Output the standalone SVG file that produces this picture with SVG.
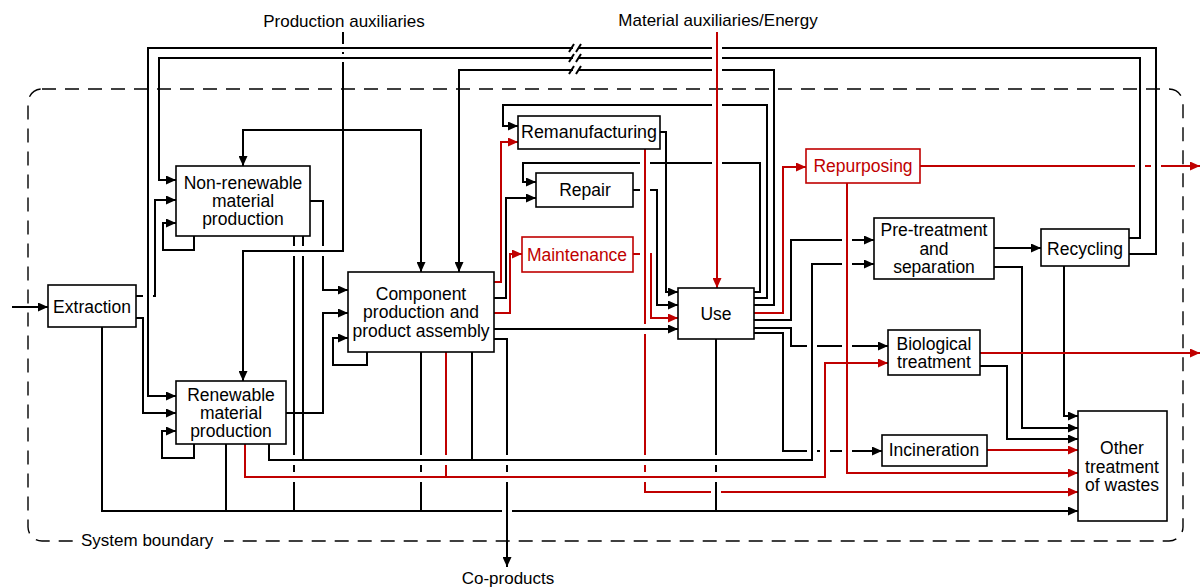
<svg xmlns="http://www.w3.org/2000/svg" width="1200" height="587" viewBox="0 0 1200 587">
<style>
.k{fill:none;stroke:#000;stroke-width:2}
.r{fill:none;stroke:#c00000;stroke-width:2}
.node rect{fill:#fff;stroke:#000;stroke-width:1.6}
.node.red rect{stroke:#c00000}
text{font-family:"Liberation Sans",Arial,sans-serif;font-size:17.5px;text-anchor:middle;fill:#000}
.node.red text{fill:#c00000}
.lbl{font-size:17px}
.gap{fill:#fff;stroke:none}
.bnd{fill:none;stroke:#000;stroke-width:1.4;stroke-dasharray:14 9}
</style>
<defs>
<marker id="ak" markerWidth="10" markerHeight="9" refX="10" refY="4.5" orient="auto" markerUnits="userSpaceOnUse"><path d="M0,0 L10,4.5 L0,9 z" fill="#000"/></marker>
<marker id="ar" markerWidth="10" markerHeight="9" refX="10" refY="4.5" orient="auto" markerUnits="userSpaceOnUse"><path d="M0,0 L10,4.5 L0,9 z" fill="#c00000"/></marker>
</defs>

<g id="boundary">
<rect class="bnd" x="28" y="89" width="1155" height="452" rx="14"/>
<rect class="gap" x="74" y="534" width="150" height="14"/>
<text x="81" y="546" style="text-anchor:start" class="lbl">System boundary</text>
</g>

<g id="labels">
<text class="lbl" x="344" y="27">Production auxiliaries</text>
<text class="lbl" x="718" y="26">Material auxiliaries/Energy</text>
<text class="lbl" x="508" y="584">Co-products</text>
</g>

<g id="connectors">
<path class="k" d="M12,307 H48" marker-end="url(#ak)"/>
<path class="k" d="M136,296 H155 V200 H176" marker-end="url(#ak)"/>
<path class="k" d="M136,318 H143 V413 H176" marker-end="url(#ak)"/>
<path class="k" d="M1129,254 H1156 V48 H148 V396 H176" marker-end="url(#ak)"/>
<path class="k" d="M1129,238 H1140 V58 H159 V180 H176" marker-end="url(#ak)"/>
<path class="k" d="M194,236 V250 H163 V223 H176" marker-end="url(#ak)"/>
<path class="k" d="M194,444 V458 H162 V431 H176" marker-end="url(#ak)"/>
<path class="k" d="M343,32 V251 H243 V381" marker-end="url(#ak)"/>
<path class="k" d="M343,130 H243 V166" marker-end="url(#ak)"/>
<path class="k" d="M343,130 H421 V272" marker-end="url(#ak)"/>
<path class="k" d="M310,201 H323 V290 H348" marker-end="url(#ak)"/>
<path class="k" d="M286,413 H323 V313 H348" marker-end="url(#ak)"/>
<path class="k" d="M367,352 V365 H333 V338 H348" marker-end="url(#ak)"/>
<path class="k" d="M294,236 V511"/>
<path class="k" d="M303,236 V460"/>
<path class="k" d="M226,444 V511"/>
<path class="k" d="M102,327 V511 H1078" marker-end="url(#ak)"/>
<path class="k" d="M269,444 V460 H812 V264 H874" marker-end="url(#ak)"/>
<path class="k" d="M421,352 V511"/>
<path class="k" d="M472,352 V460"/>
<path class="k" d="M494,339 H507 V567" marker-end="url(#ak)"/>
<path class="k" d="M494,298 H506 V198 H536" marker-end="url(#ak)"/>
<path class="k" d="M494,329 H678" marker-end="url(#ak)"/>
<path class="k" d="M754,292 H760 V163 H523 V182 H536" marker-end="url(#ak)"/>
<path class="k" d="M754,298 H767 V105 H503 V126 H518" marker-end="url(#ak)"/>
<path class="k" d="M754,305 H774 V70 H459 V272" marker-end="url(#ak)"/>
<path class="k" d="M754,320 H791 V240 H874" marker-end="url(#ak)"/>
<path class="k" d="M754,328 H791 V346 H888" marker-end="url(#ak)"/>
<path class="k" d="M754,333 H783 V451 H882" marker-end="url(#ak)"/>
<path class="k" d="M716,339 V511"/>
<path class="k" d="M660,132 H666 V292 H678" marker-end="url(#ak)"/>
<path class="k" d="M633,190 H657 V305 H678" marker-end="url(#ak)"/>
<path class="k" d="M994,248 H1041" marker-end="url(#ak)"/>
<path class="k" d="M994,267 H1022 V428 H1078" marker-end="url(#ak)"/>
<path class="k" d="M980,366 H1007 V439 H1078" marker-end="url(#ak)"/>
<path class="k" d="M1064,266 V416 H1078" marker-end="url(#ak)"/>

<path class="r" d="M494,282 H501 V142 H518" marker-end="url(#ar)"/>
<path class="r" d="M494,313 H510 V254 H522" marker-end="url(#ar)"/>
<path class="r" d="M633,254 H651 V318 H678" marker-end="url(#ar)"/>
<path class="r" d="M645,149 V492 H1078" marker-end="url(#ar)"/>
<path class="r" d="M754,313 H783 V167 H806" marker-end="url(#ar)"/>
<path class="r" d="M920,166 H1200" marker-end="url(#ar)"/>
<path class="r" d="M847,183 V473 H1078" marker-end="url(#ar)"/>
<path class="r" d="M980,353 H1200" marker-end="url(#ar)"/>
<path class="r" d="M987,450 H1078" marker-end="url(#ar)"/>
<path class="r" d="M245,444 V477 H825 V363 H888" marker-end="url(#ar)"/>
<path class="r" d="M446,352 V477"/>

<g id="jumps">
<rect class="gap" x="712" y="45" width="10" height="6"/><rect class="gap" x="712" y="55" width="10" height="6"/><rect class="gap" x="712" y="67" width="10" height="6"/><rect class="gap" x="712" y="102" width="10" height="6"/><rect class="gap" x="712" y="160" width="10" height="6"/>
<rect class="gap" x="143" y="293" width="10" height="6"/><path class="k" d="M148,289 V303"/>
<rect class="gap" x="640" y="251" width="10" height="6"/>
<rect class="gap" x="640" y="187" width="10" height="6"/>
<rect class="gap" x="640" y="160" width="10" height="6"/>
<path class="r" d="M645,155 V262"/>
<rect class="gap" x="1135" y="163" width="10" height="6"/><rect class="gap" x="1151" y="163" width="10" height="6"/>
<path class="k" d="M1140,158 V174 M1156,158 V174"/>
<rect class="gap" x="842" y="237" width="10" height="6"/><rect class="gap" x="842" y="261" width="10" height="6"/><rect class="gap" x="842" y="343" width="10" height="6"/><rect class="gap" x="842" y="448" width="10" height="6"/>
<path class="r" d="M847,232 V272 M847,338 V354 M847,443 V459"/>
<rect class="gap" x="807" y="343" width="10" height="6"/><rect class="gap" x="807" y="448" width="10" height="6"/>
<path class="k" d="M812,338 V354 M812,443 V459"/>
<rect class="gap" x="820" y="448" width="10" height="6"/><path class="r" d="M825,443 V459"/>
<rect class="gap" x="502" y="508" width="10" height="6"/><path class="k" d="M507,503 V519"/>
<rect class="gap" x="711" y="489" width="10" height="6"/><path class="k" d="M716,484 V500"/>
<rect class="gap" x="339" y="44" width="8" height="8"/><rect class="gap" x="339" y="54" width="8" height="8"/>
<path class="k" d="M335,48 H351 M335,58 H351"/>
<rect class="gap" x="642" y="324" width="6" height="10"/><path class="k" d="M638,329 H652"/>
<rect class="gap" x="291" y="246" width="6" height="10"/><rect class="gap" x="300" y="246" width="6" height="10"/><rect class="gap" x="320" y="246" width="6" height="10"/>
<path class="k" d="M286,251 H331"/>
<rect class="gap" x="291" y="455" width="6" height="10"/><rect class="gap" x="418" y="455" width="6" height="10"/><rect class="gap" x="443" y="455" width="6" height="10"/><rect class="gap" x="504" y="455" width="6" height="10"/><rect class="gap" x="642" y="455" width="6" height="10"/><rect class="gap" x="713" y="455" width="6" height="10"/>
<path class="k" d="M286,460 H301 M413,460 H429 M438,460 H454 M499,460 H515 M637,460 H653 M708,460 H724"/>
<rect class="gap" x="291" y="472" width="6" height="10"/><rect class="gap" x="418" y="472" width="6" height="10"/><rect class="gap" x="504" y="472" width="6" height="10"/><rect class="gap" x="642" y="472" width="6" height="10"/><rect class="gap" x="713" y="472" width="6" height="10"/>
<path class="r" d="M286,477 H301 M413,477 H429 M499,477 H515 M637,477 H653 M708,477 H724"/>
<rect class="gap" x="573" y="44" width="6" height="30"/>
<path class="k" d="M569,52 L574,44 M576,52 L581,44 M569,62 L574,54 M576,62 L581,54 M569,74 L574,66 M576,74 L581,66"/>
</g>
<path class="r" d="M717,32 V288" marker-end="url(#ar)"/>
</g>

<g id="extraction" class="node"><rect x="48" y="285" width="88" height="42"/><text x="92" y="313">Extraction</text></g>
<g id="nonrenewable" class="node"><rect x="176" y="166" width="134" height="70"/><text x="243" y="189">Non-renewable</text><text x="243" y="207">material</text><text x="243" y="225">production</text></g>
<g id="renewable" class="node"><rect x="176" y="381" width="110" height="63"/><text x="231" y="401">Renewable</text><text x="231" y="419">material</text><text x="231" y="437">production</text></g>
<g id="component" class="node"><rect x="348" y="272" width="146" height="80"/><text x="421" y="300">Component</text><text x="421" y="318">production and</text><text x="421" y="337">product assembly</text></g>
<g id="remanufacturing" class="node"><rect x="518" y="116" width="142" height="33"/><text x="589" y="138" textLength="136" lengthAdjust="spacingAndGlyphs">Remanufacturing</text></g>
<g id="repair" class="node"><rect x="536" y="173" width="97" height="34"/><text x="585" y="196">Repair</text></g>
<g id="maintenance" class="node red"><rect x="522" y="237" width="111" height="35"/><text x="577" y="261">Maintenance</text></g>
<g id="use" class="node"><rect x="678" y="288" width="76" height="51"/><text x="716" y="320">Use</text></g>
<g id="repurposing" class="node red"><rect x="806" y="149" width="114" height="34"/><text x="863" y="172">Repurposing</text></g>
<g id="pretreatment" class="node"><rect x="874" y="218" width="120" height="61"/><text x="934" y="236">Pre-treatment</text><text x="934" y="255">and</text><text x="934" y="273">separation</text></g>
<g id="recycling" class="node"><rect x="1041" y="229" width="88" height="37"/><text x="1085" y="255">Recycling</text></g>
<g id="biological" class="node"><rect x="888" y="330" width="92" height="45"/><text x="934" y="350">Biological</text><text x="934" y="368">treatment</text></g>
<g id="incineration" class="node"><rect x="882" y="435" width="105" height="31"/><text x="934" y="456">Incineration</text></g>
<g id="other" class="node"><rect x="1078" y="411" width="89" height="110"/><text x="1122" y="454">Other</text><text x="1122" y="473">treatment</text><text x="1122" y="491">of wastes</text></g>
</svg>
